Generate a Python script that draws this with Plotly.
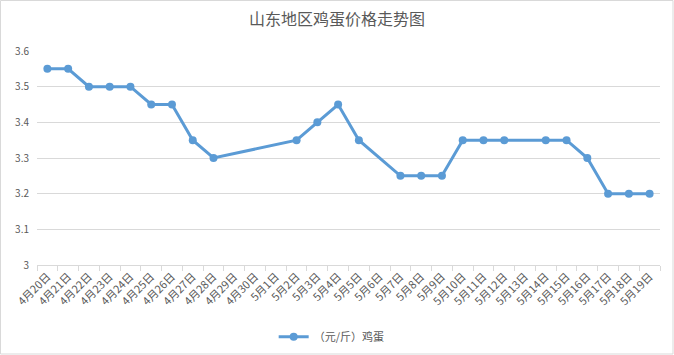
import plotly.graph_objects as go

dates = ["4月20日","4月21日","4月22日","4月23日","4月24日","4月25日","4月26日","4月27日","4月28日","4月29日",
         "4月30日","5月1日","5月2日","5月3日","5月4日","5月5日","5月6日","5月7日","5月8日","5月9日",
         "5月10日","5月11日","5月12日","5月13日","5月14日","5月15日","5月16日","5月17日","5月18日","5月19日"]
prices = [3.55,3.55,3.5,3.5,3.5,3.45,3.45,3.35,3.3,None,
          None,None,3.35,3.4,3.45,3.35,None,3.25,3.25,3.25,
          3.35,3.35,3.35,None,3.35,3.35,3.3,3.2,3.2,3.2]
series_name = "（元/斤）鸡蛋"
title = "山东地区鸡蛋价格走势图"
yticks = [3, 3.1, 3.2, 3.3, 3.4, 3.5, 3.6]
yticktext = ["3", "3.1", "3.2", "3.3", "3.4", "3.5", "3.6"]

font = "Noto Sans CJK SC"
fig = go.Figure()
fig.add_trace(go.Scatter(
    x=dates, y=prices, name=series_name, mode="lines+markers",
    connectgaps=True,
    line=dict(color="#5b9bd5", width=3),
    marker=dict(color="#5b9bd5", size=8),
))
fig.update_layout(
    width=674, height=355,
    margin=dict(l=37, r=14, t=51, b=90, autoexpand=False),
    paper_bgcolor="white", plot_bgcolor="white",
    font=dict(family=font, color="#595959", size=11),
    title=dict(text=title, x=0.5, xanchor="center", y=0.945, yanchor="middle",
               font=dict(family=font, size=16, color="#595959")),
    showlegend=True,
    legend=dict(orientation="h", x=0.473, xanchor="center", y=-0.335, yanchor="middle",
                font=dict(size=11, color="#595959")),
    xaxis=dict(type="category", range=[-0.5, len(dates) - 0.5], tickangle=-45,
               tickson="boundaries", ticks="outside",
               ticklen=5, tickcolor="#d9d9d9", showline=True, linecolor="#d9d9d9",
               linewidth=1, showgrid=False, automargin=False,
               tickfont=dict(size=11, color="#595959")),
    yaxis=dict(range=[3, 3.6], tickvals=yticks, ticktext=yticktext, showgrid=True,
               gridcolor="#d9d9d9", gridwidth=1, zeroline=False, showline=False,
               ticks="outside", ticklen=5, tickcolor="rgba(0,0,0,0)", automargin=False,
               tickfont=dict(size=10, color="#595959")),
    shapes=[dict(type="rect", xref="paper", yref="paper", x0=-36.5/623, x1=1+13/623,
                 y0=-89/214, y1=1+50.5/214, line=dict(color="#d9d9d9", width=1))],
)
fig.write_html("out.html", config={"displayModeBar": False},
               post_script="document.body.style.margin='0';")
